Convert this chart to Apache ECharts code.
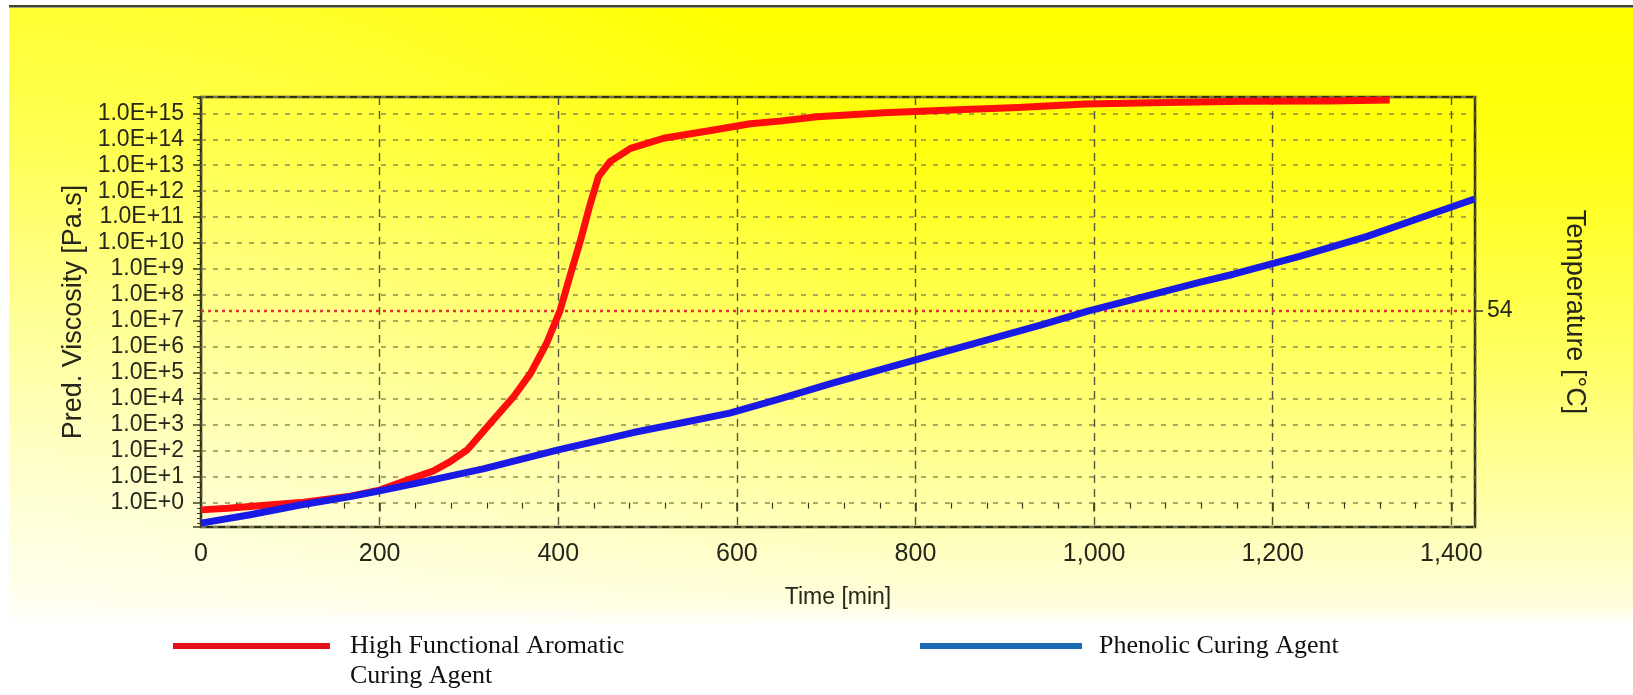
<!DOCTYPE html>
<html>
<head>
<meta charset="utf-8">
<title>Predicted viscosity vs. time</title>
<script src="https://cdn.jsdelivr.net/npm/echarts@6/dist/echarts.min.js"></script>
<style>
  html, body { margin: 0; padding: 0; background: #ffffff; }
  #chart { width: 1633px; height: 695px; }
</style>
</head>
<body>
<div id="chart"></div>
<script>
// Cure time in minutes, viscosity stored as log10(Pa·s)
const aromaticTime = [0, 30, 55, 111, 167, 200, 242, 260, 279, 298, 324, 350, 369, 387, 402, 413, 425, 436, 445, 458, 481, 518, 574, 615, 648, 690, 765, 840, 915, 990, 1065, 1165, 1264, 1331];
const aromaticLogVisc = [-0.28, -0.22, -0.15, 0.0, 0.25, 0.48, 1.0, 1.22, 1.58, 2.03, 3.06, 4.08, 4.98, 6.14, 7.40, 8.71, 10.12, 11.53, 12.56, 13.14, 13.65, 14.04, 14.36, 14.60, 14.70, 14.87, 15.02, 15.13, 15.23, 15.36, 15.41, 15.47, 15.48, 15.51];

const phenolicTime = [0, 55, 111, 167, 200, 242, 316, 400, 484, 536, 592, 648, 708, 824, 941, 993, 1119, 1156, 1231, 1305, 1380, 1426];
const phenolicLogVisc = [-0.79, -0.47, -0.09, 0.23, 0.45, 0.75, 1.30, 2.03, 2.70, 3.06, 3.45, 4.00, 4.61, 5.73, 6.85, 7.38, 8.50, 8.80, 9.50, 10.25, 11.15, 11.70];

// Isothermal cure temperature (°C) on the right-hand axis
const cureTempTime = [0, 1426.5];
const cureTemp = [54, 54];
const tempTicks = [54];

const seriesNames = ['High Functional Aromatic Curing Agent', 'Phenolic Curing Agent'];
const legendLabels = ['High Functional Aromatic\nCuring Agent', 'Phenolic Curing Agent'];

const timeRange = [0, 1426.5];
const logViscRange = [-0.94, 15.63];
const tempRange = [53, 54.99];

const zip = (xs, ys) => xs.map((x, i) => [x, ys[i]]);

const ink = '#26261a';
const sans = 'Liberation Sans, Arial, sans-serif';
const serif = 'Liberation Serif, Times New Roman, serif';

const chart = echarts.init(document.getElementById('chart'), null, { renderer: 'canvas' });

const option = {
  animation: false,
  backgroundColor: 'transparent',
  grid: {
    left: 201, right: 158, top: 97, bottom: 168,
    containLabel: false,
    outerBoundsMode: 'none',
    show: true,
    backgroundColor: 'transparent',
    borderColor: '#2f2f1a',
    borderWidth: 2.5
  },
  xAxis: {
    type: 'value',
    min: timeRange[0], max: timeRange[1], interval: 200,
    axisLine: { show: false },
    axisTick: { show: true, length: 9, lineStyle: { color: '#3a3a22', width: 1.5 } },
    minorTick: { show: true, splitNumber: 5, length: 6, lineStyle: { color: '#3a3a22', width: 1.2 } },
    axisLabel: {
      margin: 15, fontSize: 25, color: ink, fontFamily: sans,
      showMaxLabel: false,
      formatter: v => Math.round(v).toString().replace(/\B(?=(\d{3})+(?!\d))/g, ',')
    },
    splitLine: { show: true, lineStyle: { color: '#55553a', width: 1.4, type: [8, 6] } },
    name: 'Time [min]', nameLocation: 'middle', nameGap: 59,
    nameTextStyle: { fontSize: 23, color: ink, fontFamily: sans }
  },
  yAxis: [
    {
      type: 'value',
      min: logViscRange[0], max: logViscRange[1], splitNumber: 16,
      axisLine: { show: false },
      axisTick: { show: true, length: 8, lineStyle: { color: '#3a3a22', width: 1.5 } },
      minorTick: { show: true, splitNumber: 5, length: 4, lineStyle: { color: '#3a3a22', width: 1 } },
      axisLabel: {
        margin: 17, fontSize: 23, color: ink, fontFamily: sans,
        showMinLabel: false, showMaxLabel: false,
        formatter: v => {
          const e = Math.round(v);
          if (Math.abs(v - e) > 1e-6) return '';
          return '1.0E' + (e >= 0 ? '+' : '-') + Math.abs(e);
        }
      },
      splitLine: { show: true, lineStyle: { color: '#8d8d52', width: 1.6, type: [5, 7] } },
      name: 'Pred. Viscosity [Pa.s]', nameLocation: 'middle', nameGap: 110,
      nameTextStyle: { fontSize: 27, color: ink, fontFamily: sans }
    },
    {
      type: 'value',
      position: 'right',
      min: tempRange[0], max: tempRange[1],
      axisLine: { show: false },
      axisTick: { show: true, length: 8, customValues: tempTicks, lineStyle: { color: '#3a3a22', width: 1.5 } },
      axisLabel: { margin: 12, fontSize: 23, color: ink, fontFamily: sans, customValues: tempTicks },
      splitLine: { show: false },
      name: 'Temperature [°C]', nameLocation: 'middle', nameRotate: -90, nameGap: 86,
      nameTextStyle: { fontSize: 27, color: ink, fontFamily: sans }
    }
  ],
  series: [
    {
      name: 'Temperature',
      type: 'line',
      yAxisIndex: 1,
      data: zip(cureTempTime, cureTemp),
      symbol: 'none',
      z: 1,
      lineStyle: { color: '#e0303a', width: 2.5, type: [3, 4] }
    },
    {
      name: seriesNames[0],
      type: 'line',
      data: zip(aromaticTime, aromaticLogVisc),
      symbol: 'none',
      z: 3,
      lineStyle: { color: '#ff0d0d', width: 7, join: 'round' }
    },
    {
      name: seriesNames[1],
      type: 'line',
      data: zip(phenolicTime, phenolicLogVisc),
      symbol: 'none',
      z: 3,
      lineStyle: { color: '#1a1ae6', width: 7, join: 'round' }
    }
  ],
  graphic: [
    // yellow panel behind the chart
    {
      type: 'rect', z: -30, silent: true,
      shape: { x: 9, y: 8, width: 1624, height: 616 },
      style: {
        fill: new echarts.graphic.LinearGradient(0, 8, 0, 624, [
          { offset: 0, color: '#ffff00' },
          { offset: 0.23, color: '#ffff10' },
          { offset: 0.56, color: '#ffff60' },
          { offset: 0.83, color: '#ffffb0' },
          { offset: 1, color: '#fffde6' }
        ], true)
      }
    },
    {
      type: 'rect', z: -29, silent: true,
      shape: { x: 9, y: 8, width: 1624, height: 616 },
      style: {
        fill: new echarts.graphic.RadialGradient(0, 640, 950, [
          { offset: 0, color: 'rgba(255,255,255,0.6)' },
          { offset: 1, color: 'rgba(255,255,255,0)' }
        ], true)
      }
    },
    {
      type: 'rect', z: -28, silent: true,
      shape: { x: 9, y: 606, width: 1624, height: 22 },
      style: {
        fill: new echarts.graphic.LinearGradient(0, 606, 0, 628, [
          { offset: 0, color: 'rgba(255,255,255,0)' },
          { offset: 1, color: 'rgba(255,255,255,1)' }
        ], true)
      }
    },
    {
      type: 'rect', z: -27, silent: true,
      shape: { x: 9, y: 5, width: 1624, height: 2.5 },
      style: { fill: '#43432a' }
    },
    // legend
    {
      type: 'rect', silent: true,
      shape: { x: 173, y: 643, width: 157, height: 6 },
      style: { fill: '#e4111b' }
    },
    {
      type: 'text', silent: true, x: 350, y: 631,
      style: { text: legendLabels[0], fontSize: 26, fontFamily: serif, fill: '#111111', lineHeight: 30, verticalAlign: 'top' }
    },
    {
      type: 'rect', silent: true,
      shape: { x: 920, y: 643, width: 162, height: 6 },
      style: { fill: '#1b6cb6' }
    },
    {
      type: 'text', silent: true, x: 1099, y: 631,
      style: { text: legendLabels[1], fontSize: 26, fontFamily: serif, fill: '#111111', lineHeight: 30, verticalAlign: 'top' }
    }
  ]
};

chart.setOption(option);
</script>
</body>
</html>
